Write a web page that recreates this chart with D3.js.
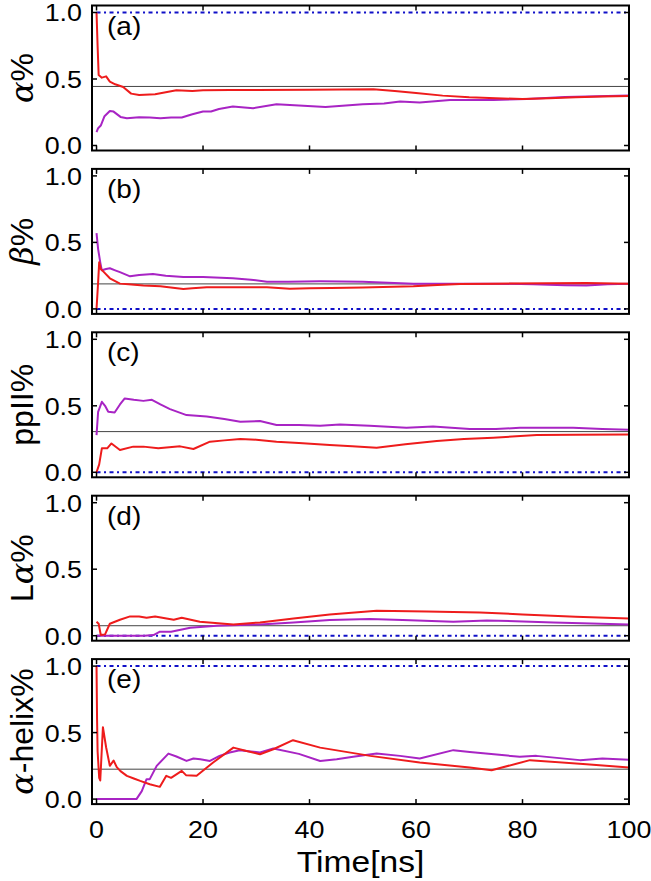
<!DOCTYPE html>
<html><head><meta charset="utf-8">
<script src="https://cdn.jsdelivr.net/npm/d3@7"></script>
<style>body{margin:0;background:#fff}svg{display:block}</style>
</head><body>
<svg id="c" width="651" height="881"></svg>
<script>
// ---- data ----
const panelLabels = ["(a)","(b)","(c)","(d)","(e)"];
const yLabels = [["α","%"],["β","%"],["","ppII%"],["L","α","%"],["α","-helix%"]];
const xTicks = [0,20,40,60,80,100];
const yTicks = [0,0.5,1.0];
const refLevels = [0.444, 0.188, 0.306, 0.075, 0.225];   // thin grey line
const targetLevels = [1.0, 0.0, 0.0, 0.0, 1.0];         // blue dash-dot line

const aRed = [[0,1.0],[0.2,0.75],[0.4,0.53],[1,0.51],[1.8,0.52],[2.5,0.48],[3.5,0.46],[5,0.44],[6.5,0.39],[8,0.38],[11,0.385],[13,0.40],[15,0.415],[18,0.41],[20,0.415],[25,0.418],[30,0.418],[40,0.42],[52,0.422],[56,0.41],[60,0.395],[65,0.375],[70,0.362],[75,0.355],[80,0.35],[85,0.355],[90,0.362],[95,0.368],[100,0.373]];
const aPur = [[0,0.10],[0.3,0.13],[0.8,0.15],[1.5,0.22],[2.5,0.26],[3.2,0.255],[4.5,0.215],[5.7,0.205],[8,0.213],[10,0.21],[12,0.205],[14,0.21],[16,0.21],[18,0.235],[20,0.255],[21.5,0.256],[23,0.275],[25.6,0.293],[29.4,0.28],[33.8,0.31],[38,0.30],[43,0.29],[50,0.31],[54,0.315],[57,0.33],[60.7,0.323],[66.4,0.343],[74.5,0.343],[80.8,0.35],[88,0.365],[94,0.37],[100,0.376]];
const bRed = [[0,0.0],[0.3,0.2],[0.5,0.35],[0.8,0.30],[1.3,0.28],[2.5,0.23],[4.4,0.19],[6,0.185],[8.8,0.176],[12,0.17],[16.3,0.15],[18,0.155],[20.7,0.163],[26,0.163],[32,0.163],[36.3,0.152],[40,0.155],[44,0.158],[50,0.16],[59.5,0.17],[64,0.18],[68.3,0.188],[75,0.19],[85,0.192],[92,0.195],[100,0.19]];
const bPur = [[0,0.57],[0.3,0.45],[0.7,0.35],[1,0.29],[1.8,0.30],[2.5,0.306],[3.5,0.29],[4.4,0.276],[6.3,0.245],[8,0.255],[10.6,0.263],[13,0.25],[16.3,0.24],[20,0.24],[25.6,0.23],[29,0.22],[32,0.205],[36,0.205],[42,0.208],[50,0.205],[59.5,0.19],[68,0.19],[75,0.19],[82,0.185],[88,0.178],[92,0.176],[96,0.185],[100,0.19]];
const cRed = [[0,0.0],[0.5,0.06],[1,0.18],[2,0.18],[2.8,0.217],[4.4,0.168],[6.9,0.193],[8.8,0.193],[11.6,0.18],[15.7,0.195],[18.2,0.175],[21.3,0.23],[24,0.24],[27,0.25],[30,0.245],[33.8,0.23],[38,0.22],[43.8,0.205],[48,0.195],[52.6,0.185],[58,0.21],[63.9,0.235],[69,0.25],[74.5,0.26],[82.7,0.28],[90,0.283],[100,0.285]];
const cPur = [[0,0.28],[0.3,0.455],[1,0.53],[1.6,0.50],[2.2,0.455],[3.4,0.45],[4.4,0.51],[5.3,0.555],[7,0.545],[8.8,0.537],[10.4,0.545],[12,0.51],[13.8,0.475],[16.9,0.43],[20.7,0.42],[24,0.40],[27,0.38],[30.7,0.385],[33.8,0.355],[38,0.355],[42,0.35],[45.7,0.36],[51.3,0.35],[58.2,0.335],[63.2,0.345],[70.1,0.325],[75,0.325],[79.5,0.335],[89.5,0.335],[95,0.325],[100,0.32]];
const dRed = [[0,0.105],[0.4,0.09],[0.8,0.005],[1.6,0.01],[2.5,0.09],[4.4,0.12],[6.3,0.145],[8,0.145],[9.4,0.135],[11,0.145],[14.5,0.12],[16,0.135],[19.4,0.105],[25.7,0.085],[30.7,0.1],[37,0.13],[43.8,0.16],[52.6,0.188],[62,0.182],[72,0.175],[80,0.16],[90,0.142],[100,0.13]];
const dPur = [[0,0.0],[9,0.0],[10.7,0.005],[11.9,0.03],[14,0.03],[17.6,0.06],[22.6,0.075],[30.7,0.085],[37,0.1],[43.8,0.118],[51.3,0.125],[57.5,0.118],[67,0.105],[73.3,0.115],[85.8,0.1],[100,0.085]];
const eRed = [[0,1.0],[0.1,0.6],[0.2,0.36],[0.5,0.16],[0.7,0.14],[1.2,0.54],[1.8,0.39],[2.5,0.25],[3.2,0.29],[3.8,0.24],[4.5,0.21],[5.7,0.175],[7,0.155],[8.2,0.137],[10,0.112],[11.9,0.092],[13.1,0.175],[14,0.16],[16,0.212],[16.8,0.18],[18.8,0.175],[21.9,0.275],[25.7,0.387],[28.2,0.362],[30.7,0.337],[33.2,0.375],[36.9,0.443],[42,0.387],[51.4,0.325],[60.7,0.275],[70.1,0.237],[74.2,0.217],[81.4,0.293],[92,0.262],[100,0.237]];
const ePur = [[0,0],[7.5,0],[8.5,0.06],[9.4,0.15],[10,0.15],[11.3,0.25],[13.5,0.342],[15,0.32],[16.9,0.287],[18.2,0.305],[19.5,0.30],[21.3,0.287],[23.1,0.325],[25,0.35],[26.9,0.368],[28.5,0.36],[30.7,0.35],[33.2,0.38],[38,0.34],[42,0.287],[45.1,0.3],[48.2,0.318],[52.6,0.342],[57,0.325],[60.7,0.305],[67,0.368],[70.1,0.355],[79.5,0.318],[82.6,0.325],[90.8,0.293],[95,0.305],[100,0.295]];
const redSeries = [aRed,bRed,cRed,dRed,eRed];
const purSeries = [aPur,bPur,cPur,dPur,ePur];

// ---- layout ----
const svg = d3.select("#c");
const L = 92, R = 629, H = 145, top0 = 5.5, step = 163.4;
const RED = "#ee1c1c", PUR = "#a824c4", BLUE = "#1010c8";
const FONT = "'Liberation Sans', Arial, sans-serif";
const SX = 1.12;
const x = d3.scaleLinear().domain([-0.85, 100]).range([L, R]);

function stretchedText(g, tx, ty, str, size, anchor, extra) {
  const t = g.append("text")
    .attr("transform", `translate(${tx},${ty}) scale(${SX},1)` + (extra||""))
    .attr("font-family", FONT).attr("font-size", size)
    .attr("text-anchor", anchor).text(str);
  return t;
}

for (let i = 0; i < 5; i++) {
  const top = top0 + i*step;
  const y = d3.scaleLinear().domain([-0.0376, 1.0526]).range([top + H, top]);
  const g = svg.append("g");
  const line = d3.line().x(d => x(d[0])).y(d => y(d[1]));

  // blue dash-dot
  g.append("line").attr("x1", x(0)).attr("x2", R - 2)
    .attr("y1", y(targetLevels[i])).attr("y2", y(targetLevels[i]))
    .attr("stroke", BLUE).attr("stroke-width", 2).attr("stroke-dasharray", "4,3.5,2,3.5");
  // grey reference
  g.append("line").attr("x1", L).attr("x2", R)
    .attr("y1", y(refLevels[i])).attr("y2", y(refLevels[i]))
    .attr("stroke", "#444").attr("stroke-width", 1);

  g.append("path").datum(purSeries[i]).attr("d", line)
    .attr("fill", "none").attr("stroke", PUR).attr("stroke-width", 2).attr("stroke-linejoin", "round");
  g.append("path").datum(redSeries[i]).attr("d", line)
    .attr("fill", "none").attr("stroke", RED).attr("stroke-width", 2).attr("stroke-linejoin", "round");

  // ticks (inward, all four sides)
  const tk = 5;
  xTicks.forEach(v => {
    g.append("line").attr("x1", x(v)).attr("x2", x(v)).attr("y1", top).attr("y2", top + tk).attr("stroke", "#000").attr("stroke-width", 1.5);
    g.append("line").attr("x1", x(v)).attr("x2", x(v)).attr("y1", top + H).attr("y2", top + H - tk).attr("stroke", "#000").attr("stroke-width", 1.5);
  });
  yTicks.forEach(v => {
    g.append("line").attr("x1", L).attr("x2", L + tk).attr("y1", y(v)).attr("y2", y(v)).attr("stroke", "#000").attr("stroke-width", 1.5);
    g.append("line").attr("x1", R).attr("x2", R - tk).attr("y1", y(v)).attr("y2", y(v)).attr("stroke", "#000").attr("stroke-width", 1.5);
    stretchedText(g, 82, y(v) + 9, d3.format(".1f")(v), 24, "end");
  });

  // frame
  g.append("rect").attr("x", L).attr("y", top).attr("width", R - L).attr("height", H)
    .attr("fill", "none").attr("stroke", "#000").attr("stroke-width", 2);

  // panel label
  stretchedText(g, 107, top + 29, panelLabels[i], 25, "start");

  // y label (rotated)
  const yl = g.append("text")
    .attr("transform", `translate(33,${top + H/2}) rotate(-90)`)
    .attr("font-family", FONT).attr("font-size", 32).attr("text-anchor", "middle");
  yLabels[i].forEach(s => {
    if (!s) return;
    const greek = /[αβ]/.test(s);
    yl.append("tspan").text(s)
      .attr("font-family", greek ? "'DejaVu Serif', serif" : FONT)
      .attr("font-style", greek ? "italic" : "normal");
  });

  if (i === 4) {
    xTicks.forEach(v => stretchedText(g, x(v), 838, String(v), 24, "middle"));
    stretchedText(g, (L + R)/2, 872, "Time[ns]", 30, "middle");
  }
}
</script>
</body></html>
